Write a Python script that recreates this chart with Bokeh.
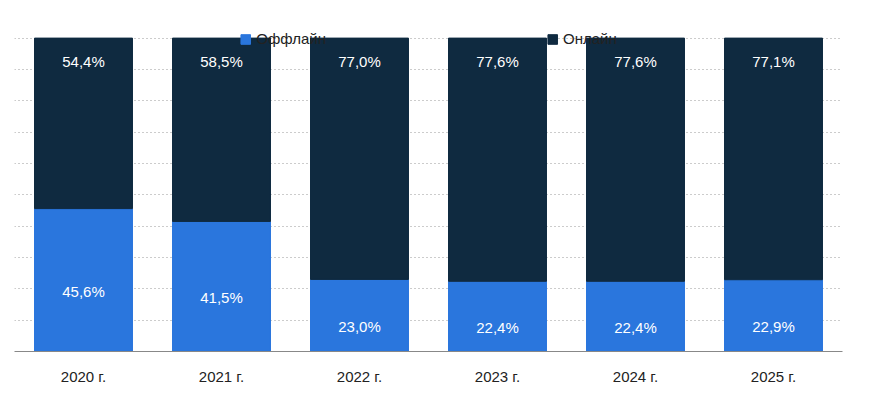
from bokeh.plotting import figure
from bokeh.models import ColumnDataSource, Legend, LegendItem, FactorRange
from bokeh.embed import file_html
from bokeh.resources import INLINE
from bokeh.core.properties import value

years = ["2020 г.", "2021 г.", "2022 г.", "2023 г.", "2024 г.", "2025 г."]
offline = [45.6, 41.5, 23.0, 22.4, 22.4, 22.9]
online = [54.4, 58.5, 77.0, 77.6, 77.6, 77.1]

FONT = "Liberation Sans"
c_off = "#2a76dd"
c_on = "#0f2a40"

fmt = lambda v: f"{v:.1f}".replace(".", ",") + "%"
src = ColumnDataSource(dict(
    x=years, off=offline, on=online,
    on_top=[a + b for a, b in zip(offline, online)],
    off_lbl=[fmt(v) for v in offline], on_lbl=[fmt(v) for v in online],
    off_y=[v / 2 - 3.5 for v in offline],
    on_y=[a + b - 7.5 for a, b in zip(offline, online)],
))

p = figure(x_range=FactorRange(*years, range_padding=0.0), y_range=(0, 112),
           width=860, height=389, output_backend="svg", toolbar_location=None,
           min_border_left=14, min_border_right=18, min_border_top=0, min_border_bottom=38)
r1 = p.vbar(x="x", bottom=0, top="off", width=0.71, color=c_off, source=src)
r2 = p.vbar(x="x", bottom="off", top="on_top", width=0.71, color=c_on, source=src)
p.text(x="x", y="off_y", text="off_lbl", source=src, text_align="center", text_baseline="middle",
       text_color="white", text_font=value(FONT), text_font_size="15px")
p.text(x="x", y="on_y", text="on_lbl", source=src, text_align="center", text_baseline="middle",
       text_color="white", text_font=value(FONT), text_font_size="15px")

p.yaxis.visible = False
p.xgrid.grid_line_color = None
p.ygrid.ticker = list(range(0, 101, 10))
p.ygrid.grid_line_color = "#999999"
p.ygrid.grid_line_dash = "1 3"
p.outline_line_color = None
p.xaxis.axis_line_color = "#888888"
p.xaxis.major_tick_line_color = None
p.xaxis.major_label_text_font = FONT
p.xaxis.major_label_text_font_size = "15px"
p.xaxis.major_label_text_color = "#222222"
p.xaxis.major_label_standoff = 10

legend = Legend(items=[LegendItem(label="Оффлайн", renderers=[r1]), LegendItem(label="Онлайн", renderers=[r2])],
                orientation="horizontal", location="top_center", spacing=220,
                label_text_font=FONT, label_text_font_size="15px", label_text_color="#222222",
                glyph_width=12, glyph_height=12, border_line_color=None, margin=30,
                padding=4, background_fill_alpha=0)
p.add_layout(legend)

open("out.html", "w").write(file_html(p, INLINE))
